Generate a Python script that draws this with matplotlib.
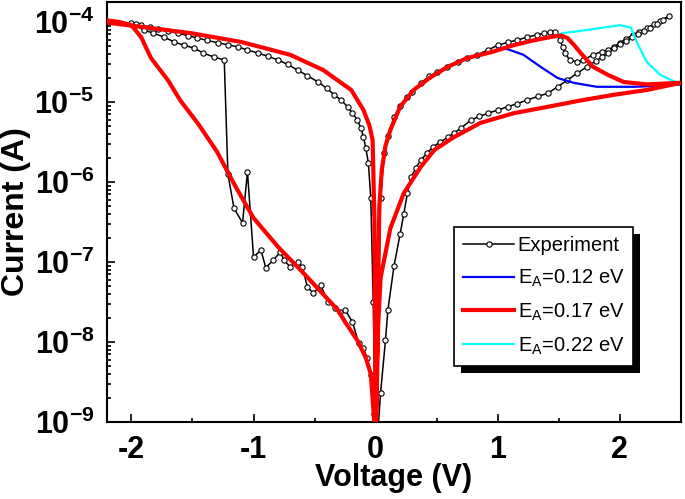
import numpy as np
import matplotlib
matplotlib.use("Agg")
import matplotlib.pyplot as plt
from matplotlib.ticker import LogLocator, FuncFormatter, MultipleLocator, NullFormatter
from matplotlib.patches import Rectangle

# ---- experiment: one hysteresis loop, log10(current in A) vs voltage ----
# 0 -> +2.4 V (high branch, switches near 1.5 V)
v_exp_pos_out = [0.0, 0.04, 0.07, 0.1, 0.15, 0.2, 0.26, 0.3, 0.37, 0.44, 0.5, 0.58, 0.67,
                 0.75, 0.83, 0.92, 1.0, 1.08, 1.16, 1.24, 1.32, 1.38, 1.43, 1.47, 1.51,
                 1.53, 1.55, 1.59, 1.65, 1.7, 1.78, 1.85, 1.9, 1.95, 2.0, 2.05, 2.11,
                 2.16, 2.22, 2.28, 2.33, 2.4]
log_i_exp_pos_out = [-9.3, -6.2, -5.64, -5.42, -5.19, -5.05, -4.94, -4.88, -4.76, -4.68,
                     -4.625, -4.56, -4.5, -4.45, -4.41, -4.35, -4.29, -4.255, -4.225,
                     -4.19, -4.16, -4.14, -4.125, -4.13, -4.225, -4.31, -4.39, -4.475,
                     -4.5, -4.475, -4.41, -4.37, -4.35, -4.31, -4.26, -4.21, -4.16,
                     -4.12, -4.075, -4.03, -3.99, -3.925]
# +2.4 V -> 0 (low branch)
v_exp_pos_back = [2.35, 2.3, 2.25, 2.2, 2.15, 2.1, 2.05, 2.0, 1.95, 1.9, 1.85, 1.8, 1.73,
                  1.65, 1.57, 1.49, 1.41, 1.33, 1.24, 1.16, 1.08, 1.0, 0.92, 0.85, 0.78,
                  0.7, 0.64, 0.59, 0.53, 0.47, 0.42, 0.37, 0.33, 0.29, 0.26, 0.23, 0.2,
                  0.15, 0.1, 0.08, 0.04, 0.01]
log_i_exp_pos_back = [-3.98, -4.02, -4.07, -4.11, -4.15, -4.19, -4.24, -4.28, -4.33, -4.39,
                      -4.44, -4.49, -4.56, -4.64, -4.725, -4.81, -4.89, -4.93, -4.975,
                      -5.02, -5.06, -5.1, -5.14, -5.18, -5.225, -5.325, -5.39, -5.44,
                      -5.5, -5.56, -5.64, -5.725, -5.82, -5.94, -6.14, -6.4, -6.65,
                      -7.05, -7.6, -7.98, -8.64, -9.3]
# 0 -> -2 V (noisy low branch, jump near -1.2 V)
v_exp_neg_out = [-0.01, -0.04, -0.07, -0.1, -0.14, -0.19, -0.25, -0.29, -0.33, -0.39,
                 -0.45, -0.51, -0.56, -0.6, -0.64, -0.7, -0.75, -0.78, -0.84, -0.9,
                 -0.94, -1.0, -1.05, -1.09, -1.16, -1.21, -1.24, -1.32, -1.41, -1.49,
                 -1.57, -1.65, -1.73, -1.82, -1.9, -2.0]
log_i_exp_neg_out = [-8.9, -8.41, -8.2, -8.08, -8.01, -7.75, -7.6, -7.62, -7.575, -7.5,
                     -7.29, -7.39, -7.31, -7.06, -7.0, -7.06, -6.98, -6.875, -6.98, -7.07,
                     -6.85, -6.94, -5.875, -6.51, -6.33, -5.9, -4.475, -4.44, -4.39,
                     -4.325, -4.29, -4.25, -4.19, -4.14, -4.1, -4.01]
# -2 V -> 0 (high branch)
v_exp_neg_back = [-1.96, -1.92, -1.85, -1.78, -1.7, -1.62, -1.54, -1.46, -1.38, -1.29,
                  -1.21, -1.13, -1.05, -0.96, -0.88, -0.8, -0.72, -0.64, -0.56, -0.47,
                  -0.4, -0.34, -0.28, -0.23, -0.19, -0.15, -0.12, -0.1, -0.08, -0.06,
                  -0.04, -0.02, 0.0]
log_i_exp_neg_back = [-4.02, -4.04, -4.065, -4.09, -4.115, -4.14, -4.17, -4.2, -4.23,
                      -4.26, -4.285, -4.31, -4.35, -4.39, -4.43, -4.475, -4.53, -4.6,
                      -4.67, -4.75, -4.83, -4.91, -4.98, -5.06, -5.14, -5.225, -5.33,
                      -5.44, -5.58, -5.76, -6.2, -7.5, -9.3]

# ---- model, E_A = 0.17 eV (full loop) ----
v_017 = [0.0, 0.03, 0.05, 0.08, 0.12, 0.2, 0.31, 0.45, 0.59, 0.75, 0.94, 1.13, 1.29, 1.46,
         1.52, 1.57, 1.62, 1.68, 1.78, 1.9, 2.03, 2.22, 2.5,
         2.22, 1.95, 1.68, 1.41, 1.13, 0.86, 0.64, 0.48, 0.37, 0.23, 0.12, 0.04, 0.02, 0.0,
         -0.016, -0.04, -0.08, -0.15, -0.25, -0.31, -0.45, -0.59, -0.8, -1.0, -1.15, -1.3,
         -1.45, -1.6, -1.7, -1.84, -1.92, -2.0, -2.1, -2.2,
         -2.19, -1.92, -1.51, -1.1, -0.7, -0.43, -0.2, -0.1, -0.05, -0.025, -0.01, 0.0]
log_i_017 = [-9.3, -6.3, -5.85, -5.55, -5.35, -5.06, -4.85, -4.69, -4.56, -4.45, -4.38,
             -4.29, -4.23, -4.18, -4.17, -4.2, -4.28, -4.39, -4.56, -4.66, -4.75, -4.78,
             -4.76,
             -4.85, -4.91, -4.98, -5.06, -5.14, -5.26, -5.44, -5.6, -5.81, -6.14, -6.58,
             -7.2, -7.8, -9.3,
             -8.9, -8.4, -8.2, -7.98, -7.75, -7.6, -7.37, -7.14, -6.81, -6.45, -6.05, -5.62,
             -5.28, -4.98, -4.73, -4.45, -4.19, -4.04, -4.0, -3.98,
             -4.01, -4.06, -4.14, -4.25, -4.41, -4.6, -4.85, -5.1, -5.3, -5.48, -6.5, -9.3]

# ---- models E_A = 0.12 / 0.22 eV: only the part where they leave the 0.17 eV curve ----
v_012 = [1.0, 1.08, 1.21, 1.35, 1.49, 1.62, 1.81, 2.11, 2.3, 2.5]
log_i_012 = [-4.33, -4.34, -4.41, -4.56, -4.7, -4.76, -4.81, -4.81, -4.8, -4.78]
v_022 = [1.46, 1.53, 1.73, 2.0, 2.09, 2.14, 2.22, 2.33, 2.44, 2.5]
log_i_022 = [-4.18, -4.14, -4.1, -4.04, -4.07, -4.26, -4.5, -4.66, -4.74, -4.76]

y_decades = [-9, -8, -7, -6, -5, -4]

plt.rcParams['font.family'] = 'Liberation Sans'
plt.rcParams['mathtext.fontset'] = 'custom'
plt.rcParams['mathtext.rm'] = 'Liberation Sans'
plt.rcParams['mathtext.bf'] = 'Liberation Sans:bold'
plt.rcParams['axes.unicode_minus'] = False

fig = plt.figure(figsize=(6.85, 4.99), dpi=100)
ax = fig.add_axes([107 / 685, 1 - 422 / 499, 574 / 685, 420 / 499])

v_exp = v_exp_pos_out + v_exp_pos_back + v_exp_neg_out + v_exp_neg_back
i_exp = 10 ** np.array(log_i_exp_pos_out + log_i_exp_pos_back
                       + log_i_exp_neg_out + log_i_exp_neg_back)

ax.plot(v_exp, i_exp, '-o', color='black', lw=1.1, ms=3.8, mfc='white', mec='black',
        mew=0.8, label='Experiment', zorder=2)
ax.plot(v_012, 10 ** np.array(log_i_012), color='#0000ff', lw=1.6,
        label=r'E$_{\mathrm{A}}$=0.12 eV', zorder=3)
ax.plot(v_017, 10 ** np.array(log_i_017), color='#ff0000', lw=3.0,
        label=r'E$_{\mathrm{A}}$=0.17 eV', zorder=4)
ax.plot(v_022, 10 ** np.array(log_i_022), color='#00ffff', lw=1.6,
        label=r'E$_{\mathrm{A}}$=0.22 eV', zorder=3)

ax.set_yscale('log')
ax.set_xlim(-2.2, 2.5)
ax.set_ylim(1e-9, 10 ** -3.75)

ax.xaxis.set_major_locator(MultipleLocator(1))
ax.xaxis.set_minor_locator(MultipleLocator(0.5))
ax.set_yticks([10.0 ** d for d in y_decades])
ax.set_yticklabels([r'$\mathbf{10^{%d}}$' % d for d in y_decades])
ax.yaxis.set_minor_locator(LogLocator(base=10, subs=np.arange(2, 10), numticks=20))
ax.yaxis.set_minor_formatter(NullFormatter())
ax.xaxis.set_major_formatter(FuncFormatter(lambda v, p: '%d' % round(v)))

ax.tick_params(which='both', direction='in', top=False, right=False, width=1.2)
ax.tick_params(which='major', length=6, labelsize=22, pad=9)
ax.tick_params(which='minor', length=3)
for lab in ax.get_xticklabels():
    lab.set_fontweight('bold')
for s in ax.spines.values():
    s.set_linewidth(1.5)

ax.set_xlabel('Voltage (V)', fontsize=22, fontweight='bold', labelpad=-1)
ax.set_ylabel('Current (A)', fontsize=23, fontweight='bold', labelpad=2)

leg = ax.legend(loc='upper left', bbox_to_anchor=(0.605, 0.464), borderaxespad=0,
                fontsize=14.5, frameon=True, fancybox=False, edgecolor='black',
                facecolor='white', framealpha=1, numpoints=1,
                handlelength=2.5, handletextpad=0.2, labelspacing=0.62, borderpad=0.45)
leg.get_frame().set_linewidth(1.2)
leg.set_zorder(10)

# solid black drop shadow behind the legend box
fig.canvas.draw()
bb = leg.get_window_extent()
shadow = Rectangle((bb.x0 + 7, bb.y0 - 7), bb.width, bb.height, transform=None,
                   facecolor='black', edgecolor='none', zorder=9)
ax.add_artist(shadow)

fig.savefig('out.png', dpi=100)
